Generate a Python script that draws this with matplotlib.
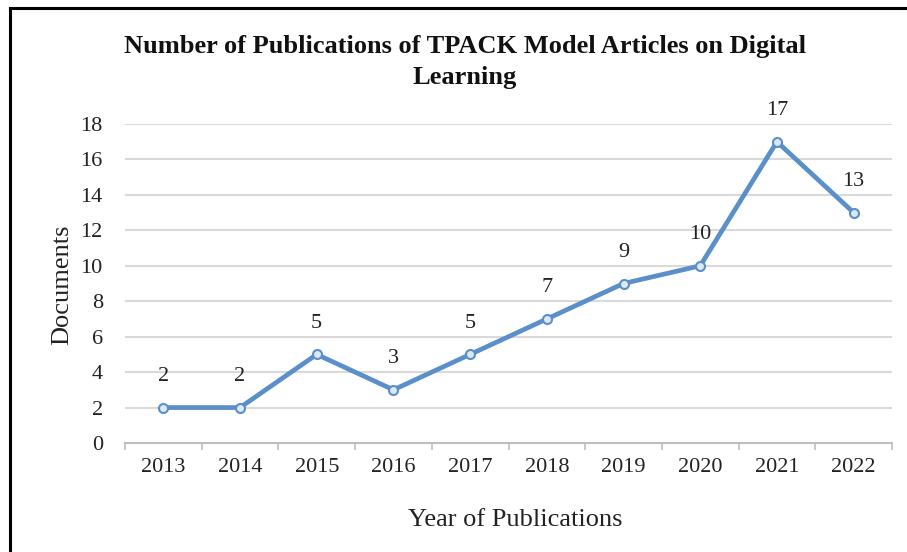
import matplotlib
matplotlib.use("Agg")
import matplotlib.pyplot as plt
from matplotlib.lines import Line2D

years = ["2013", "2014", "2015", "2016", "2017", "2018", "2019", "2020", "2021", "2022"]
documents = [2, 2, 5, 3, 5, 7, 9, 10, 17, 13]
yticks = [0, 2, 4, 6, 8, 10, 12, 14, 16, 18]

W, H = 907, 552
fig = plt.figure(figsize=(W / 100, H / 100), dpi=100)
fig.patch.set_facecolor("white")

serif = ["Liberation Serif", "DejaVu Serif"]
plt.rcParams["font.family"] = serif

ax = fig.add_axes([125 / W, 1 - 443 / H, 767 / W, (443 - 124) / H])
x = list(range(len(years)))
line_color = "#5B8FC9"
ax.plot(x, documents, color=line_color, lw=3.4, marker="o", ms=6.5,
        mfc="#DCE8F5", mec=line_color, mew=1.5, zorder=3, solid_joinstyle="miter")

for xi, v in zip(x, documents):
    ax.annotate(str(v), (xi, v), xytext=(0, 31), textcoords="offset pixels",
                ha="center", va="center", fontsize=16, color="#222222")

ax.set_xlim(-0.5, len(years) - 0.5)
ax.set_ylim(0, 18)
ax.set_yticks(yticks)
ax.set_yticklabels([str(t) for t in yticks], fontsize=16, color="#222222")
ax.set_xticks(x)
ax.set_xticklabels(years, fontsize=16, color="#222222")
ax.set_xticks([i - 0.5 for i in range(len(years) + 1)], minor=True)
ax.tick_params(axis="x", which="major", length=0, pad=11)
ax.tick_params(axis="x", which="minor", length=5, color="#BFBFBF", width=1.2)
ax.tick_params(axis="y", length=0, pad=16)
ax.grid(axis="y", color="#D9D9D9", lw=1.5)
ax.set_axisbelow(True)
for s in ["top", "right", "left"]:
    ax.spines[s].set_visible(False)
ax.spines["bottom"].set_color("#BFBFBF")
ax.spines["bottom"].set_linewidth(1.5)

fig.text(465 / W, 1 - 47 / H, "Number of Publications of TPACK Model Articles on Digital",
         ha="center", va="center", fontsize=19, fontweight="bold", color="#111111")
fig.text(465 / W, 1 - 77 / H, "Learning",
         ha="center", va="center", fontsize=19, fontweight="bold", color="#111111")
fig.text(515 / W, 1 - 520 / H, "Year of Publications",
         ha="center", va="center", fontsize=19, color="#222222")
fig.text(62 / W, 1 - 285 / H, "Documents", rotation=90,
         ha="center", va="center", fontsize=19, color="#222222")

# partial frame (left and top borders)
fig.add_artist(Line2D([10 / W, 10 / W], [0, 1 - 8 / H], color="black", lw=2.2,
                      transform=fig.transFigure))
fig.add_artist(Line2D([10 / W, 1], [1 - 8 / H, 1 - 8 / H], color="black", lw=2.2,
                      transform=fig.transFigure))

fig.savefig("out.png", dpi=100)
